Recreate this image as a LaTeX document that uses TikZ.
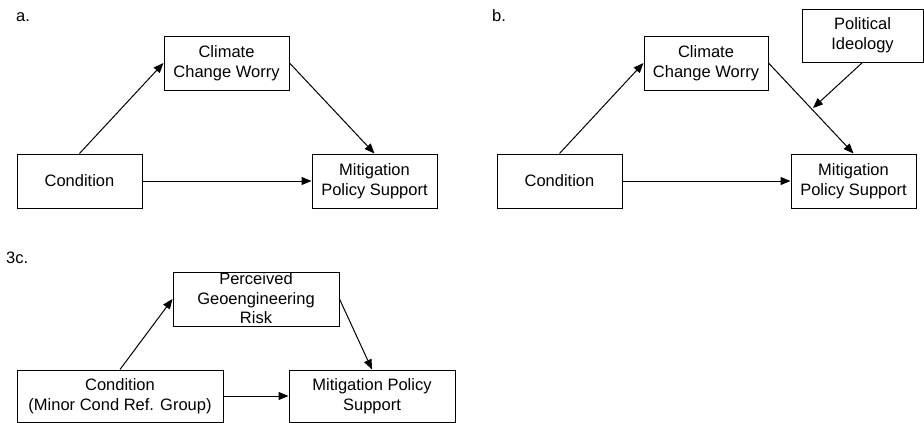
\documentclass[tikz,border=0pt]{standalone}
\usepackage{fontspec}
\setmainfont{Liberation Sans}
\usetikzlibrary{arrows.meta}
\begin{document}
\begin{tikzpicture}[x=1pt,y=-1pt,
  box/.style={draw,line width=1pt,inner sep=0pt,align=center,
    font=\fontsize{16.5}{20}\selectfont},
  boxtext/.style={inner sep=0pt,align=center,font=\fontsize{16.5}{19.5}\selectfont},
  panel/.style={inner sep=0pt,anchor=base west,font=\fontsize{16.5}{20}\selectfont},
  arr/.style={line width=1pt,-{Triangle[length=10pt,width=8pt]}}]
\useasboundingbox (0,0) rectangle (924,423);
% panel a
\node[panel] (la) at (16,21) {a.};
\node[box,minimum width=125pt,minimum height=54pt] (condA) at (79.5,181) {Condition};
\node[box,minimum width=125pt,minimum height=54pt] (cliA) at (226.5,63) {Climate\\Change Worry};
\node[box,minimum width=125pt,minimum height=54pt] (mitA) at (374.5,181) {Mitigation\\Policy Support};
\draw[arr] (condA.north) -- (cliA.west);
\draw[arr] (cliA.east) -- (mitA.north);
\draw[arr] (condA.east) -- (mitA.west);
% panel b
\node[panel] (lb) at (492,21) {b.};
\node[box,minimum width=125pt,minimum height=54pt] (condB) at (559.5,181) {Condition};
\node[box,minimum width=124pt,minimum height=54pt] (cliB) at (706,63) {Climate\\Change Worry};
\node[box,minimum width=125pt,minimum height=54pt] (mitB) at (853.5,181) {Mitigation\\Policy Support};
\node[box,minimum width=121pt,minimum height=53pt] (polB) at (862.5,35.5) {Political\\Ideology};
\coordinate (modB) at (813,108);
\draw[arr] (condB.north) -- (cliB.west);
\draw[arr] (cliB.east) -- (mitB.north);
\draw[arr] (condB.east) -- (mitB.west);
\draw[arr] (polB.south) -- (modB);
% panel c
\node[panel] (lc) at (6,263) {3c.};
\node[box,minimum width=206pt,minimum height=52pt] (condC) at (120,396) {Condition\\(Minor Cond Ref. Group)};
\node[box,minimum width=166pt,minimum height=54pt] (perC) at (256,299) {};
\node[boxtext] (perT) at (256,298.5) {Perceived\\Geoengineering\\Risk};
\node[box,minimum width=166pt,minimum height=52pt] (mitC) at (372,396) {Mitigation Policy\\Support};
\draw[arr] (condC.north) -- (perC.west);
\draw[arr] (perC.east) -- (mitC.north);
\draw[arr] (condC.east) -- (mitC.west);
\end{tikzpicture}
\end{document}
